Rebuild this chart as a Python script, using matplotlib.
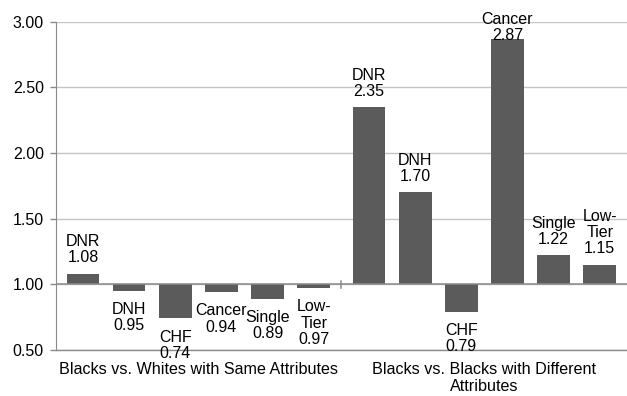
import matplotlib.pyplot as plt
import numpy as np

plt.rcParams['font.family'] = ['Liberation Sans', 'DejaVu Sans']

names = ['DNR', 'DNH', 'CHF', 'Cancer', 'Single', 'Low-\nTier']
same_attr = [1.08, 0.95, 0.74, 0.94, 0.89, 0.97]
diff_attr = [2.35, 1.70, 0.79, 2.87, 1.22, 1.15]
groups = ['Blacks vs. Whites with Same Attributes',
          'Blacks vs. Blacks with Different\nAttributes']
yticks = [0.50, 1.00, 1.50, 2.00, 2.50, 3.00]

bar_col = '#5b5b5b'
grid_col = '#c4c4c4'
axis_col = '#8a8a8a'

fig = plt.figure(figsize=(6.27, 3.96), dpi=100)
ax = fig.add_axes([0.0888, 0.1162, 0.9112, 0.8290])

gap = 1.2
x1 = np.arange(6)
x2 = np.arange(6) + 5 + gap
xs = np.concatenate([x1, x2])
vals = same_attr + diff_attr
labs = names + names

ax.bar(xs, np.array(vals) - 1.0, bottom=1.0, width=0.71, color=bar_col, zorder=3)

ax.set_ylim(0.5, 3.0)
ax.set_xlim(-0.59, xs[-1] + 0.59)
ax.set_yticks(yticks)
ax.set_yticklabels(['%.2f' % t for t in yticks], fontsize=11.5)
ax.set_xticks([])
ax.grid(axis='y', color=grid_col, lw=1, zorder=0)
for s in ['top', 'right', 'bottom']:
    ax.spines[s].set_visible(False)
ax.spines['left'].set_color(axis_col)
ax.tick_params(axis='y', length=4.5, width=1, color=axis_col, pad=4)

# category axis crossing at 1.00, with the group divider tick
ax.axhline(1.0, color=axis_col, lw=1.1, zorder=4)
ax.axhline(0.5, color=axis_col, lw=1, zorder=4, clip_on=False)
div = (x1[-1] + x2[0]) / 2
ax.plot([div, div], [0.975, 1.025], color=axis_col, lw=1.1, zorder=4)

fs = 11.5
for x, v, n in zip(xs, vals, labs):
    txt = '%s\n%.2f' % (n, v)
    if v >= 1.0:
        if v > 2.7:
            # no room above: Excel pushes the label down to fit
            ax.annotate(txt, xy=(x, 3.0), xytext=(0, 7), textcoords='offset points',
                        ha='center', va='top', fontsize=fs, linespacing=1.1, zorder=5)
        else:
            ax.annotate(txt, xy=(x, v), xytext=(0, 6), textcoords='offset points',
                        ha='center', va='bottom', fontsize=fs, linespacing=1.1, zorder=5)
    else:
        ax.annotate(txt, xy=(x, v), xytext=(0, -8), textcoords='offset points',
                    ha='center', va='top', fontsize=fs, linespacing=1.1, zorder=5)

centers = [(-0.59 + div) / 2, (div + xs[-1] + 0.59) / 2]
for c, g in zip(centers, groups):
    ax.annotate(g, xy=(c, 0.5), xytext=(0, -9), textcoords='offset points',
                ha='center', va='top', fontsize=11.6, linespacing=1.15)

fig.savefig('out.png', dpi=100)
